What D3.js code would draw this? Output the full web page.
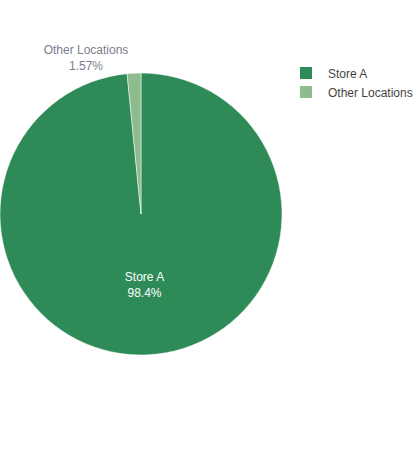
<!DOCTYPE html>
<html><head><meta charset="utf-8">
<script src="https://cdn.jsdelivr.net/npm/d3@7"></script>
<style>body{margin:0;background:#fff}svg{display:block;font-family:"Liberation Sans",Arial,sans-serif}</style>
</head><body>
<svg id="c" width="414" height="450"></svg>
<script>
const categories = ["Store A", "Other Locations"];
const values = [98.43, 1.57];
const insideLabels = ["98.4%", null];
const outsideLabels = [null, "1.57%"];
const colors = ["#2e8b57", "#8fbc8f"];

const svg = d3.select("#c");
const cx = 141, cy = 214, r = 141;
const pie = d3.pie().sort(null).value(d => d.v);
const arcs = pie(categories.map((c, i) => ({c, v: values[i], i})));
const arc = d3.arc().innerRadius(0).outerRadius(r);
const g = svg.append("g").attr("transform", `translate(${cx},${cy})`);
g.selectAll("path").data(arcs).join("path")
  .attr("d", arc).attr("fill", d => colors[d.data.i])
  .attr("stroke", "#fff").attr("stroke-width", 0.5);

// inside label for large slice
const a0 = arcs[0];
const mid = (a0.startAngle + a0.endAngle) / 2;
const lx = Math.sin(mid) * r * 0.5, ly = -Math.cos(mid) * r * 0.5;
const t = g.append("text").attr("text-anchor", "middle").attr("fill", "#fff").attr("font-size", 12);
t.append("tspan").attr("x", lx).attr("y", ly - 3).text(categories[0]);
t.append("tspan").attr("x", lx).attr("y", ly + 13).text(insideLabels[0]);

// outside label for small slice
const a1 = arcs[1];
const t2 = svg.append("text").attr("text-anchor", "middle").attr("fill", "#7a7f8c").attr("font-size", 12);
t2.append("tspan").attr("x", 86).attr("y", 54).text(categories[1]);
t2.append("tspan").attr("x", 86).attr("y", 70).text(outsideLabels[1]);

// legend
const leg = svg.append("g").attr("transform", "translate(300,67)");
categories.forEach((c, i) => {
  const row = leg.append("g").attr("transform", `translate(0,${i * 19})`);
  row.append("rect").attr("width", 12).attr("height", 12).attr("fill", colors[i]);
  row.append("text").attr("x", 28).attr("y", 10.5).attr("font-size", 12).attr("fill", "#444").text(c);
});
</script>
</body></html>
